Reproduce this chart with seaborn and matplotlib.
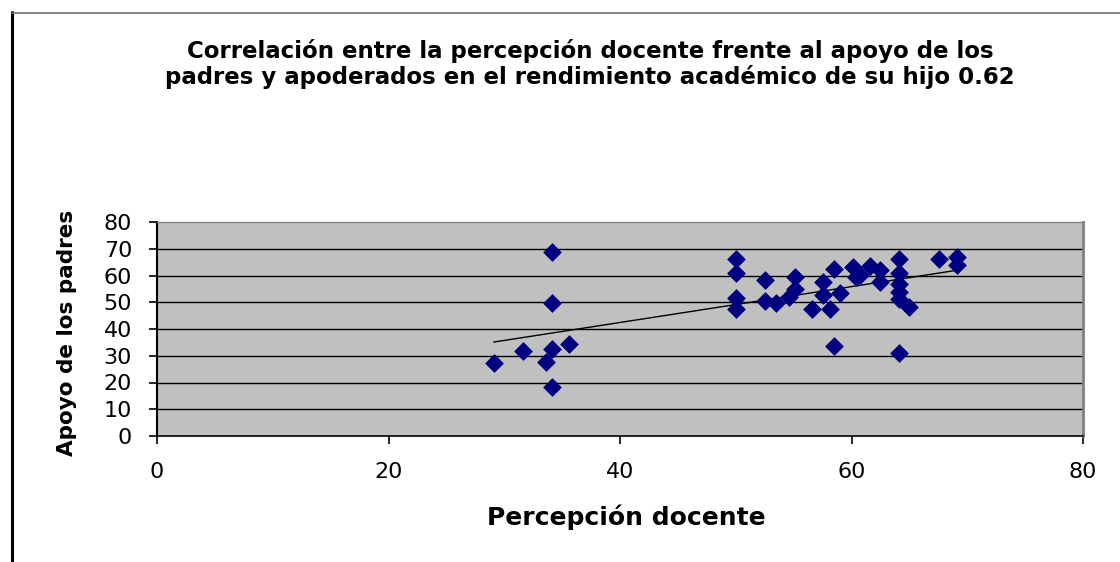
import matplotlib
matplotlib.use("Agg")
import matplotlib.pyplot as plt
import seaborn as sns
import pandas as pd

# Data
percepcion = [34.1, 34.1, 29.1, 31.6, 34.1, 33.6, 35.6, 34.1,
              50.0, 50.0, 50.0, 50.0, 52.5, 52.5, 53.5, 54.6, 55.1, 55.1,
              56.6, 57.5, 57.5, 58.1, 58.5, 59.0, 58.5, 60.1, 60.4, 60.7,
              61.6, 62.5, 62.5, 64.1, 64.1, 64.1, 64.1, 64.1, 65.0, 64.1,
              67.6, 69.1, 69.1]
apoyo = [68.7, 49.7, 27.2, 31.6, 32.7, 27.6, 34.5, 18.5,
         66.0, 61.1, 51.6, 47.6, 58.5, 50.4, 49.7, 52.0, 59.5, 54.8,
         47.6, 57.4, 52.6, 47.4, 62.4, 53.6, 33.5, 63.3, 59.5, 60.2,
         63.7, 62.0, 57.6, 66.0, 60.8, 57.0, 53.9, 51.4, 48.2, 31.1,
         66.0, 67.0, 63.9]
x_ticks = [0, 20, 40, 60, 80]
y_ticks = [0, 10, 20, 30, 40, 50, 60, 70, 80]

title = ("Correlación entre la percepción docente frente al apoyo de los\n"
         "padres y apoderados en el rendimiento académico de su hijo 0.62")
x_label = "Percepción docente"
y_label = "Apoyo de los padres"

df = pd.DataFrame({"x": percepcion, "y": apoyo})

sns.set_style("white")
plt.rcParams["font.family"] = ["DejaVu Sans"]

fig = plt.figure(figsize=(11.2, 5.62), dpi=100)
ax = fig.add_axes([157 / 1120, 1 - 436 / 562, (1083 - 157) / 1120, (436 - 222) / 562])
ax.set_facecolor("#C0C0C0")

# chart frame (left and top)
fig.add_artist(plt.Line2D([11.5 / 1120, 11.5 / 1120], [0, 1 - 12 / 562],
                          transform=fig.transFigure, color="black", lw=2.2))
fig.add_artist(plt.Line2D([11.5 / 1120, 1], [1 - 12.5 / 562, 1 - 12.5 / 562],
                          transform=fig.transFigure, color="#707070", lw=1.2))

for yv in y_ticks[1:-1]:
    ax.axhline(yv, color="black", lw=1.0, zorder=1)

sns.regplot(data=df, x="x", y="y", scatter=False, ci=None, truncate=True,
            line_kws={"color": "black", "lw": 1.0, "zorder": 3}, ax=ax)
sns.scatterplot(data=df, x="x", y="y", marker="D", s=80, color="#000080",
                edgecolor="#000080", linewidth=0.6, zorder=4, ax=ax)

ax.set_xlim(0, 80)
ax.set_ylim(0, 80)
ax.set_xticks(x_ticks)
ax.set_yticks(y_ticks)
ax.set_xticklabels([str(v) for v in x_ticks])
ax.set_yticklabels([str(v) for v in y_ticks])

ax.spines["top"].set_color("#808080")
ax.spines["top"].set_linewidth(1.0)
ax.spines["right"].set_color("#808080")
ax.spines["right"].set_linewidth(2.0)
ax.spines["left"].set_color("black")
ax.spines["left"].set_linewidth(1.5)
ax.spines["bottom"].set_color("black")
ax.spines["bottom"].set_linewidth(1.2)

ax.tick_params(axis="x", direction="out", length=6, width=1.2, color="black",
               labelsize=16, pad=13, labelcolor="black")
ax.tick_params(axis="y", direction="out", length=6, width=1.2, color="black",
               labelsize=16, pad=12, labelcolor="black")
ax.tick_params(bottom=True, left=True)

ax.set_xlabel(x_label, fontsize=18, fontweight="bold", color="black")
ax.set_ylabel(y_label, fontsize=15.5, fontweight="bold", color="black")
ax.xaxis.set_label_coords((626 - 157) / 926, (436 - 517) / 214)
ax.xaxis.label.set_va("center")
ax.yaxis.set_label_coords((67 - 157) / 926, (436 - 333) / 214)
ax.yaxis.label.set_va("center")
ax.yaxis.label.set_ha("center")

fig.text(590 / 1120, 1 - 64 / 562, title, ha="center", va="center",
         fontsize=16.5, fontweight="bold", linespacing=1.15, color="black")

fig.savefig("out.png", dpi=100)
